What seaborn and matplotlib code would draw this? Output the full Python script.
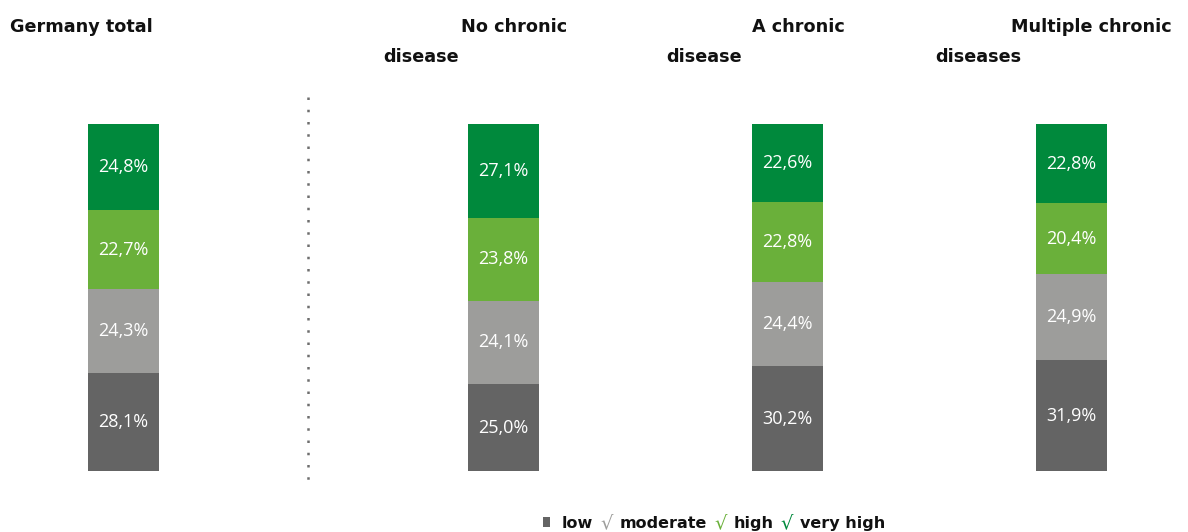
import matplotlib
matplotlib.use("Agg")
import numpy as np
import pandas as pd
import matplotlib.pyplot as plt
import seaborn as sns
from matplotlib.lines import Line2D
from matplotlib.patches import Rectangle

# Share of respondents per level, by chronic disease status
groups = ["Germany total", "No chronic disease", "A chronic disease", "Multiple chronic diseases"]
levels = ["low", "moderate", "high", "very high"]
low = [28.1, 25.0, 30.2, 31.9]
moderate = [24.3, 24.1, 24.4, 24.9]
high = [22.7, 23.8, 22.8, 20.4]
very_high = [24.8, 27.1, 22.6, 22.8]

title_line1 = ["Germany total", "No chronic", "A chronic", "Multiple chronic"]
title_line2 = ["", "disease", "disease", "diseases"]

palette = {"low": "#646464", "moderate": "#9d9d9b", "high": "#6ab03a", "very high": "#00893c"}

sns.set_style("white")
plt.rcParams["font.family"] = ["DejaVu Sans"]

W, H = 1188, 532
fig = plt.figure(figsize=(W / 100, H / 100), dpi=100)

# Long table with stacked extents
rows = []
for i, g in enumerate(groups):
    vals = [low[i], moderate[i], high[i], very_high[i]]
    cum = np.cumsum(vals)
    for lv, v, c in zip(levels, vals, cum):
        rows.append({"group": g, "level": lv, "value": v, "top": c, "mid": c - v / 2})
df = pd.DataFrame(rows)

def px(x, y, w, h):
    return [x / W, 1 - (y + h) / H, w / W, h / H]

bar_top, bar_bottom = 124, 471
unit = 284.0
ax_left = fig.add_axes(px(123.5 - 0.4 * unit, bar_top, 0.9 * unit, bar_bottom - bar_top))
ax_right = fig.add_axes(px(503.5 - 0.5 * unit, bar_top, 2.85 * unit, bar_bottom - bar_top))

panels = [(ax_left, groups[:1], (-0.4, 0.5)), (ax_right, groups[1:], (-0.5, 2.35))]
for ax, order, xlim in panels:
    sub = df[df["group"].isin(order)]
    # overlapping cumulative bars, tallest first, form the stack
    for lv in reversed(levels):
        part = sub[sub["level"] == lv]
        sns.barplot(data=part, x="group", y="top", order=order, color=palette[lv],
                    saturation=1, width=0.25, linewidth=0, errorbar=None, ax=ax)
    for _, r in sub.iterrows():
        xi = order.index(r["group"])
        ax.text(xi, r["mid"], f"{r['value']:.1f}".replace(".", ",") + "%",
                ha="center", va="center", color="white", fontsize=13,
                family=["Open Sans", "DejaVu Sans"])
    ax.set_xlim(*xlim)
    ax.set_ylim(0, 100)
    ax.set_axis_off()

# Dotted divider between the total and the subgroups
fig.add_artist(Line2D([308 / W, 308 / W], [1 - 97 / H, 1 - 481 / H], color="#6e6e6e",
                      linewidth=1.8, linestyle=(0, (1, 3.9)), solid_capstyle="butt"))

# Column titles
tfs = 12.7
l1_x = [10, 461, 752, 1011]
l2_x = [0, 383, 666, 935]
for t1, t2, x1, x2 in zip(title_line1, title_line2, l1_x, l2_x):
    fig.text(x1 / W, 1 - 32 / H, t1, fontsize=tfs, fontweight="bold", color="#111111",
             ha="left", va="baseline")
    if t2:
        fig.text(x2 / W, 1 - 62 / H, t2, fontsize=tfs, fontweight="bold", color="#111111",
                 ha="left", va="baseline")

# Legend row
fig.add_artist(Rectangle((543 / W, 1 - 527 / H), 7 / W, 10 / H, transform=fig.transFigure,
                         facecolor="#646464", edgecolor="none"))
pieces = [("low", "#111111", "bold", 11.5), ("\u221a", palette["moderate"], "normal", 14),
          ("moderate", "#111111", "bold", 11.5), ("\u221a", palette["high"], "normal", 14),
          ("high", "#111111", "bold", 11.5), ("\u221a", palette["very high"], "normal", 14),
          ("very high", "#111111", "bold", 11.5)]
renderer = fig.canvas.get_renderer()
x = 562.0
for txt, col, wt, fs in pieces:
    t = fig.text(x / W, 1 - 528 / H, txt, fontsize=fs, fontweight=wt, color=col,
                 ha="left", va="baseline")
    bb = t.get_window_extent(renderer)
    x += bb.width + 7

fig.savefig("out.png", dpi=100, facecolor="white")
